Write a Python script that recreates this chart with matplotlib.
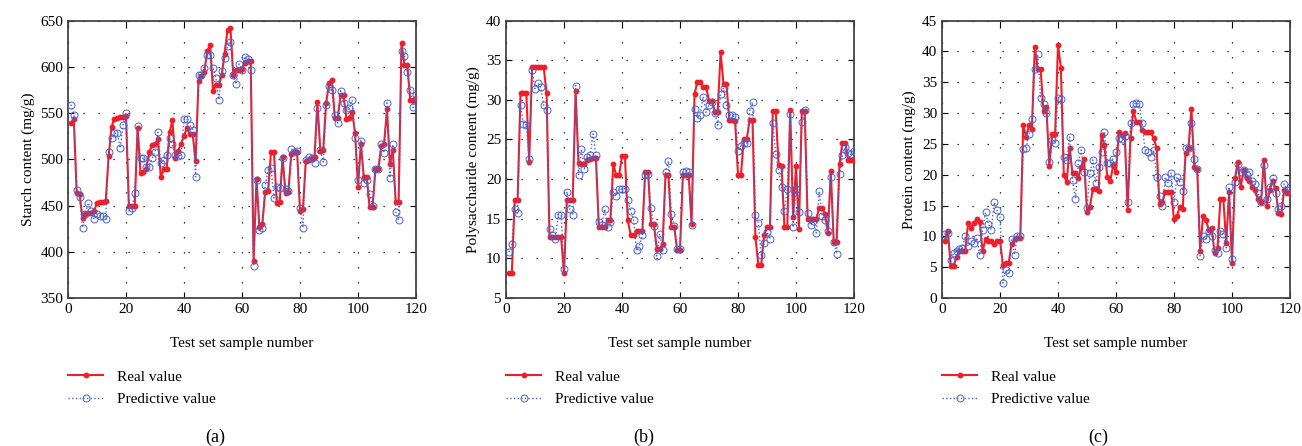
import numpy as np
import matplotlib.pyplot as plt

plt.rcParams['font.family'] = ['Liberation Serif', 'DejaVu Serif']
plt.rcParams['font.size'] = 11

sample = np.arange(1, 121)

starch_real = [539, 544, 463, 462, 436, 441, 442, 442, 444, 453,
               454, 454, 455, 503, 535, 544, 545, 546, 546, 547,
               450, 450, 450, 534, 485, 486, 490, 508, 515, 516,
               522, 481, 489, 489, 529, 542, 501, 509, 517, 525,
               534, 527, 527, 498, 585, 590, 594, 617, 624, 574,
               580, 580, 591, 614, 640, 642, 591, 597, 597, 598,
               604, 606, 606, 390, 479, 427, 430, 465, 466, 508,
               508, 453, 454, 502, 463, 465, 506, 508, 508, 444,
               446, 498, 499, 501, 502, 562, 509, 510, 561, 582,
               586, 545, 545, 569, 569, 544, 545, 551, 528, 470,
               517, 481, 481, 448, 448, 489, 489, 514, 517, 554,
               495, 510, 454, 454, 626, 602, 602, 564, 564, 566]
starch_pred = [559, 548, 467, 459, 426, 441, 453, 444, 435, 441,
               439, 439, 435, 508, 523, 528, 528, 512, 537, 550,
               444, 447, 463, 536, 501, 501, 492, 492, 501, 508,
               529, 496, 499, 505, 523, 516, 505, 503, 505, 543,
               544, 537, 532, 481, 591, 591, 599, 613, 613, 599,
               588, 564, 595, 609, 622, 627, 591, 581, 603, 597,
               611, 608, 597, 385, 478, 423, 426, 472, 488, 491,
               458, 470, 469, 501, 468, 466, 511, 508, 509, 447,
               426, 499, 502, 501, 496, 555, 510, 497, 559, 579,
               575, 548, 539, 574, 561, 553, 555, 564, 523, 478,
               520, 474, 478, 462, 449, 489, 489, 516, 507, 561,
               480, 516, 443, 434, 617, 612, 594, 575, 556, 570]

poly_real = [8.1, 8.1, 17.4, 17.4, 30.8, 30.8, 30.8, 22.2, 34.1, 34.1,
             34.1, 34.1, 34.1, 30.8, 12.7, 12.7, 12.7, 12.7, 12.7, 8.1,
             17.4, 17.4, 17.4, 31.1, 22.0, 21.9, 21.9, 22.4, 22.5, 22.7,
             22.7, 14.0, 14.0, 14.0, 14.8, 14.8, 21.9, 20.5, 20.5, 22.9,
             22.9, 14.8, 12.9, 12.9, 13.4, 13.4, 13.4, 20.9, 20.9, 14.3,
             14.3, 11.2, 11.2, 11.8, 20.5, 20.5, 14.0, 14.0, 11.1, 11.1,
             20.5, 20.5, 20.5, 14.3, 30.7, 32.3, 32.3, 31.6, 31.6, 29.9,
             29.9, 28.5, 28.5, 36.0, 32.0, 32.0, 27.5, 27.5, 27.3, 20.5,
             20.5, 25.0, 25.0, 27.4, 27.4, 12.7, 9.2, 9.2, 12.9, 13.9,
             13.9, 28.6, 28.6, 21.8, 21.7, 14.0, 14.0, 28.7, 15.2, 21.7,
             13.7, 28.6, 28.6, 15.0, 15.0, 15.0, 15.0, 16.4, 16.4, 15.6,
             13.2, 21.0, 12.1, 12.1, 21.9, 24.6, 24.6, 22.4, 22.4, 22.4]
poly_pred = [10.8, 11.8, 16.2, 15.7, 29.3, 27.0, 26.8, 22.5, 33.8, 31.4,
             32.1, 31.6, 29.3, 28.7, 13.7, 12.9, 12.4, 15.5, 15.5, 8.7,
             18.4, 16.2, 15.5, 31.8, 20.5, 23.8, 21.3, 22.8, 23.0, 25.7,
             23.0, 14.6, 14.2, 16.2, 14.0, 14.6, 18.4, 17.9, 18.8, 18.7,
             18.8, 17.3, 16.0, 14.8, 11.0, 11.6, 12.9, 20.5, 20.6, 16.3,
             14.1, 10.3, 13.1, 11.0, 20.9, 22.3, 15.6, 14.1, 11.2, 11.2,
             20.9, 21.0, 20.9, 14.2, 28.9, 27.7, 28.1, 30.4, 28.4, 29.4,
             29.7, 28.3, 26.8, 30.7, 31.5, 29.3, 28.1, 28.1, 27.8, 23.6,
             24.2, 24.5, 24.5, 28.6, 29.7, 15.5, 14.5, 10.4, 12.0, 13.3,
             12.4, 27.1, 23.2, 21.1, 19.0, 16.0, 18.7, 28.2, 13.9, 18.8,
             15.9, 27.2, 28.7, 15.7, 14.2, 14.7, 13.2, 18.5, 15.3, 14.9,
             13.4, 20.2, 12.1, 10.6, 20.6, 23.0, 24.0, 23.3, 23.1, 23.5]

protein_real = [9.3, 10.9, 5.2, 5.2, 6.6, 7.6, 7.6, 7.7, 12.1, 11.4,
                12.2, 12.8, 12.4, 7.6, 9.5, 9.3, 9.3, 8.7, 9.3, 9.2,
                5.4, 5.7, 5.7, 8.8, 9.5, 9.8, 9.8, 28.0, 26.1, 28.1,
                27.4, 40.7, 37.2, 37.2, 30.3, 31.0, 21.4, 26.6, 26.6, 41.1,
                37.3, 19.9, 18.8, 24.4, 20.2, 20.2, 19.5, 21.3, 22.5, 13.9,
                14.8, 17.7, 17.7, 17.4, 26.5, 24.8, 19.6, 18.9, 21.5, 20.4,
                27.0, 26.5, 26.7, 14.3, 26.0, 30.4, 28.6, 28.6, 27.3, 26.9,
                26.9, 26.9, 25.9, 24.3, 15.2, 15.5, 17.2, 17.2, 17.2, 12.8,
                13.3, 14.8, 14.4, 23.5, 24.4, 30.7, 21.2, 21.0, 7.7, 13.3,
                12.7, 11.0, 11.3, 7.3, 8.1, 16.1, 16.1, 8.9, 17.2, 5.7,
                19.4, 22.0, 18.0, 20.7, 19.5, 19.0, 18.0, 17.5, 16.0, 15.5,
                22.4, 15.0, 17.5, 19.0, 17.8, 13.8, 13.7, 17.5, 17.0, 17.0]
protein_pred = [10.3, 10.6, 6.1, 7.3, 7.6, 7.9, 8.1, 10.0, 8.4, 9.2,
                8.9, 9.8, 6.9, 11.1, 13.9, 12.0, 11.1, 15.5, 14.2, 13.1,
                2.4, 4.6, 4.0, 9.5, 7.0, 10.0, 10.0, 24.1, 24.3, 26.6,
                29.0, 37.2, 39.5, 32.5, 31.4, 30.0, 22.1, 25.7, 25.1, 32.5,
                32.3, 22.9, 22.4, 26.1, 19.1, 16.1, 21.9, 24.0, 20.4, 14.6,
                20.2, 22.4, 18.7, 21.3, 23.7, 27.0, 21.9, 21.9, 22.6, 23.6,
                25.9, 25.8, 26.2, 15.5, 28.3, 31.4, 31.7, 31.4, 28.4, 24.0,
                23.7, 22.9, 24.0, 19.6, 16.6, 15.0, 19.6, 18.6, 20.3, 15.5,
                19.7, 18.8, 17.4, 24.3, 24.3, 28.4, 22.5, 21.0, 6.8, 10.0,
                9.5, 10.9, 10.0, 7.8, 7.3, 10.9, 10.3, 8.1, 18.0, 6.4,
                18.8, 21.8, 20.4, 20.8, 20.0, 20.5, 19.0, 18.5, 17.0, 15.5,
                21.5, 16.0, 18.0, 19.5, 17.0, 14.5, 15.0, 18.5, 17.5, 18.0]

ylabels = ['Starch content (mg/g)', 'Polysaccharide content (mg/g)', 'Protein content (mg/g)']
ylims = [(350, 650), (5, 40), (0, 45)]
ysteps = [50, 5, 5]
letters = ['(a)', '(b)', '(c)']

fig = plt.figure(figsize=(13.02, 4.46), dpi=100)
W, H = 1302.0, 446.0
lefts = [68, 506, 942]
letter_x = [215, 644, 1098]
series = [(starch_real, starch_pred), (poly_real, poly_pred), (protein_real, protein_pred)]

for i in range(3):
    ax = fig.add_axes([lefts[i] / W, 1 - 298 / H, 348 / W, 277.5 / H])
    real, pred = series[i]
    ax.plot(sample, real, '-', color='#f01e28', lw=1.5, marker='o', ms=3.2,
            label='Real value', zorder=3)
    ax.plot(sample, pred, ':', color='#4a62cc', lw=1.0, marker='o', ms=5,
            mfc='none', mew=0.7, label='Predictive value', zorder=4)
    ax.set_xlim(0, 120)
    ax.set_ylim(*ylims[i])
    ax.set_xticks(range(0, 121, 20))
    ax.set_yticks(np.arange(ylims[i][0], ylims[i][1] + 0.1, ysteps[i]))
    ax.grid(True, linestyle=(0, (1, 11)), color='k', lw=0.9)
    ax.tick_params(direction='in', top=True, right=True, length=4, labelsize=11)
    for sp in ax.spines.values():
        sp.set_color('#444444')
        sp.set_linewidth(1.3)
    ax.set_xlabel('Test set sample number', fontsize=11, labelpad=15)
    ax.set_ylabel(ylabels[i], fontsize=11)
    ax.legend(loc='upper left', bbox_to_anchor=(0.0, -0.26), frameon=False,
              fontsize=11, handlelength=2.3, handletextpad=0.9,
              labelspacing=0.58, borderpad=0, borderaxespad=0)
    fig.text(letter_x[i] / W, 1 - 437 / H, letters[i], ha='center', va='center', fontsize=13)

fig.savefig('out.png', dpi=100)
